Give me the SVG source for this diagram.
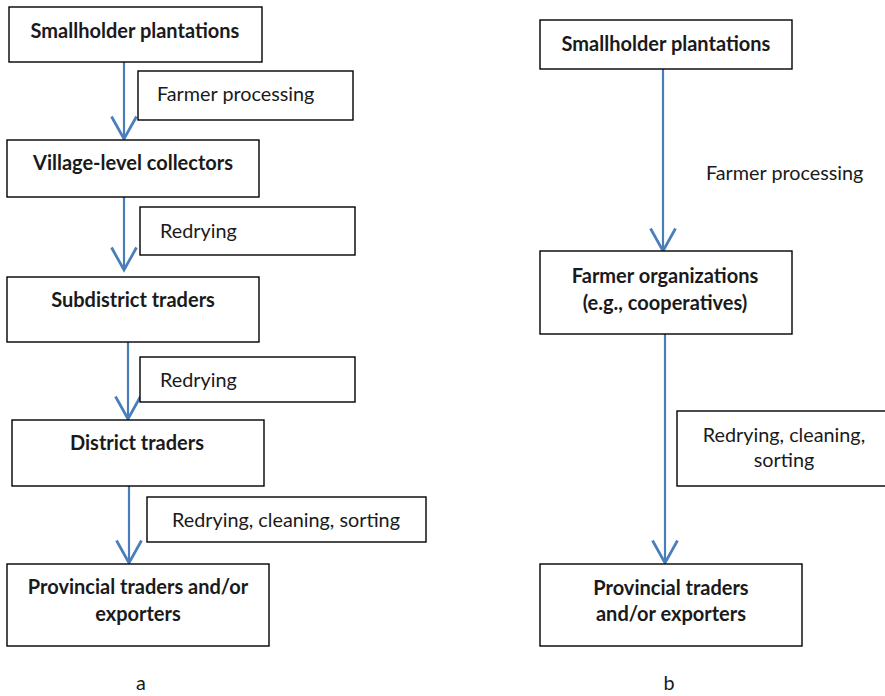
<svg xmlns="http://www.w3.org/2000/svg" width="885" height="696" viewBox="0 0 885 696">
<style>
.box{fill:#fff;stroke:#000;stroke-width:1.4}
.b{font-family:Lato,"Liberation Sans",sans-serif;font-weight:bold;font-size:20px;fill:#1a1a1a;text-anchor:middle}
.r{font-family:Lato,"Liberation Sans",sans-serif;font-size:19.8px;fill:#1a1a1a}
.c{stroke:#4a7ebb;stroke-width:2.2;fill:none}
</style>
<defs>
<marker id="ah" markerUnits="userSpaceOnUse" markerWidth="30" markerHeight="30" viewBox="-20 -12 22 24" refX="0" refY="0" orient="auto">
<path d="M-18,-10 L0,0 L-18,10" fill="none" stroke="#4a7ebb" stroke-width="2.2"/>
</marker>
</defs>
<rect width="885" height="696" fill="#fff"/>
<g id="connectors">
<line class="c" x1="124" y1="62" x2="124" y2="139" marker-end="url(#ah)"/>
<line class="c" x1="124" y1="197" x2="124" y2="270" marker-end="url(#ah)"/>
<line class="c" x1="128" y1="342" x2="128" y2="419" marker-end="url(#ah)"/>
<line class="c" x1="129" y1="486" x2="129" y2="563" marker-end="url(#ah)"/>
<line class="c" x1="663" y1="69" x2="663" y2="251" marker-end="url(#ah)"/>
<line class="c" x1="665" y1="334" x2="665" y2="563" marker-end="url(#ah)"/>
</g>
<g id="a-smallholder"><rect class="box" x="9" y="7" width="253" height="55"/><text class="b" x="135" y="38">Smallholder plantations</text></g>
<g id="a-farmer-processing"><rect class="box" x="138" y="71" width="215" height="49"/><text class="r" x="157" y="101">Farmer processing</text></g>
<g id="a-village"><rect class="box" x="7" y="140" width="252" height="57"/><text class="b" x="133" y="170">Village-level collectors</text></g>
<g id="a-redrying1"><rect class="box" x="140" y="207" width="215" height="48"/><text class="r" x="160" y="238">Redrying</text></g>
<g id="a-subdistrict"><rect class="box" x="7" y="277" width="252" height="65"/><text class="b" x="133" y="307">Subdistrict traders</text></g>
<g id="a-redrying2"><rect class="box" x="140" y="357" width="215" height="45"/><text class="r" x="160" y="387">Redrying</text></g>
<g id="a-district"><rect class="box" x="12" y="420" width="252" height="66"/><text class="b" x="137" y="450">District traders</text></g>
<g id="a-redrying3"><rect class="box" x="147" y="497" width="279" height="45"/><text class="r" x="286" y="527" text-anchor="middle">Redrying, cleaning, sorting</text></g>
<g id="a-provincial"><rect class="box" x="7" y="564" width="262" height="82"/><text class="b" x="138" y="594">Provincial traders and/or</text><text class="b" x="138" y="621">exporters</text></g>
<g id="label-a"><text class="r" x="141" y="690" text-anchor="middle">a</text></g>
<g id="b-smallholder"><rect class="box" x="540" y="20" width="252" height="49"/><text class="b" x="666" y="51">Smallholder plantations</text></g>
<g id="b-farmer-processing"><text class="r" x="706" y="180">Farmer processing</text></g>
<g id="b-organizations"><rect class="box" x="540" y="251" width="252" height="83"/><text class="b" x="665" y="283">Farmer organizations</text><text class="b" x="665" y="310">(e.g., cooperatives)</text></g>
<g id="b-redrying"><rect class="box" x="677" y="411" width="215" height="75"/><text class="r" x="784" y="442" text-anchor="middle">Redrying, cleaning,</text><text class="r" x="784" y="467" text-anchor="middle">sorting</text></g>
<g id="b-provincial"><rect class="box" x="540" y="564" width="262" height="82"/><text class="b" x="671" y="595">Provincial traders</text><text class="b" x="671" y="621">and/or exporters</text></g>
<g id="label-b"><text class="r" x="669" y="690" text-anchor="middle">b</text></g>
</svg>
